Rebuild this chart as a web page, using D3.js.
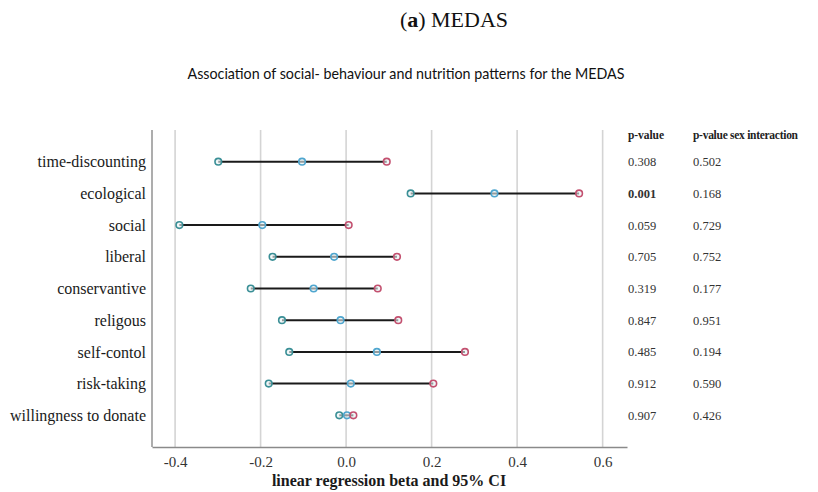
<!DOCTYPE html>
<html><head><meta charset="utf-8">
<script src="https://cdn.jsdelivr.net/npm/d3@7"></script>
<style>body{margin:0;background:#fff}svg{display:block}</style>
</head><body>
<svg id="c" width="818" height="492"></svg>
<script>
const categories = ["time-discounting","ecological","social","liberal","conservantive","religous","self-contol","risk-taking","willingness to donate"];
const lower = [-0.299,0.151,-0.390,-0.172,-0.223,-0.150,-0.133,-0.181,-0.016];
const beta  = [-0.103,0.347,-0.196,-0.028,-0.076,-0.013,0.072,0.011,0.002];
const upper = [0.095,0.545,0.006,0.119,0.074,0.122,0.278,0.204,0.017];
const pValues = ["0.308","0.001","0.059","0.705","0.319","0.847","0.485","0.912","0.907"];
const pSex = ["0.502","0.168","0.729","0.752","0.177","0.951","0.194","0.590","0.426"];
const xTicks = [-0.4,-0.2,0.0,0.2,0.4,0.6];
const xTickLabels = ["-0.4","-0.2","0.0","0.2","0.4","0.6"];

(function(){
const svg = d3.select("#c");
const serif = "'Liberation Serif', 'DejaVu Serif', serif";
const L = 152, R = 627, T = 130, B = 447;
const x = d3.scaleLinear().domain([-0.454, 0.657]).range([L, R]);
const y = d3.scalePoint().domain(categories).range([161.7, 415.3]);

svg.append("text").attr("x", 454).attr("y", 27).attr("text-anchor","middle")
  .style("font-family", serif).style("font-size","22px").attr("fill","#111")
  .html('(<tspan font-weight="bold">a</tspan>) MEDAS');

svg.append("text").attr("x", 406).attr("y", 79).attr("text-anchor","middle")
  .style("font-family","Lato, 'Open Sans', sans-serif").style("font-size","15px").attr("fill","#111")
  .attr("textLength", 437).attr("lengthAdjust","spacingAndGlyphs")
  .text("Association of social- behaviour and nutrition patterns for the MEDAS");

svg.append("g").selectAll("line").data(xTicks).join("line")
  .attr("x1", d => x(d)).attr("x2", d => x(d)).attr("y1", T).attr("y2", B)
  .attr("stroke", "#d4d4d4").attr("stroke-width", 1.6);

const xAxis = d3.axisBottom(x).tickValues(xTicks)
  .tickFormat((d,i) => xTickLabels[i]).tickSize(0).tickPadding(9);
const gx = svg.append("g").attr("transform", `translate(0,${B})`).call(xAxis);
gx.select(".domain").attr("stroke","#8a8a8a").attr("stroke-width",1.4);
gx.selectAll("text").style("font-family", serif).style("font-size","15px").attr("fill","#333");

const yAxis = d3.axisLeft(y).tickSize(0).tickPadding(6);
const gy = svg.append("g").attr("transform", `translate(${L},0)`).call(yAxis);
gy.select(".domain").attr("d", `M0,${T}V${B}`).attr("stroke","#8a8a8a").attr("stroke-width",1.4);
gy.selectAll("text").style("font-family", serif).style("font-size","16px").attr("fill","#1a1a1a");

svg.append("text").attr("x", 389).attr("y", 486).attr("text-anchor","middle")
  .style("font-family", serif).style("font-size","16px").style("font-weight","bold").attr("fill","#1a1a1a")
  .text("linear regression beta and 95% CI");

const rows = categories.map((c,i) => ({c, lo: lower[i], b: beta[i], hi: upper[i], p: pValues[i], ps: pSex[i]}));
svg.append("g").selectAll("line").data(rows).join("line")
  .attr("x1", d => x(d.lo)).attr("x2", d => x(d.hi)).attr("y1", d => y(d.c)).attr("y2", d => y(d.c))
  .attr("stroke", "#1a1a1a").attr("stroke-width", 2);

function markers(key, color) {
  svg.append("g").selectAll("circle").data(rows).join("circle")
    .attr("cx", d => x(d[key])).attr("cy", d => y(d.c)).attr("r", 3.3)
    .attr("fill", "#e8f2f4").attr("fill-opacity", 0.6).attr("stroke", color).attr("stroke-width", 1.6);
}
markers("lo", "#3a8f96");
markers("b", "#4fa6cf");
markers("hi", "#c3506f");

svg.append("text").attr("x", 628).attr("y", 139).style("font-family", serif).style("font-size","11.5px")
  .style("font-weight","bold").attr("fill","#222").attr("textLength", 36).text("p-value");
svg.append("text").attr("x", 693).attr("y", 139).style("font-family", serif).style("font-size","11.5px")
  .style("font-weight","bold").attr("fill","#222").attr("textLength", 105).text("p-value sex interaction");
svg.append("g").selectAll("text").data(rows).join("text")
  .attr("x", 628).attr("y", d => y(d.c) + 4.5)
  .style("font-family", serif).style("font-size","12.5px").attr("fill","#333")
  .style("font-weight", d => d.p === "0.001" ? "bold" : "normal")
  .text(d => d.p);
svg.append("g").selectAll("text").data(rows).join("text")
  .attr("x", 693).attr("y", d => y(d.c) + 4.5)
  .style("font-family", serif).style("font-size","12.5px").attr("fill","#333")
  .text(d => d.ps);
})();
</script>
</body></html>
